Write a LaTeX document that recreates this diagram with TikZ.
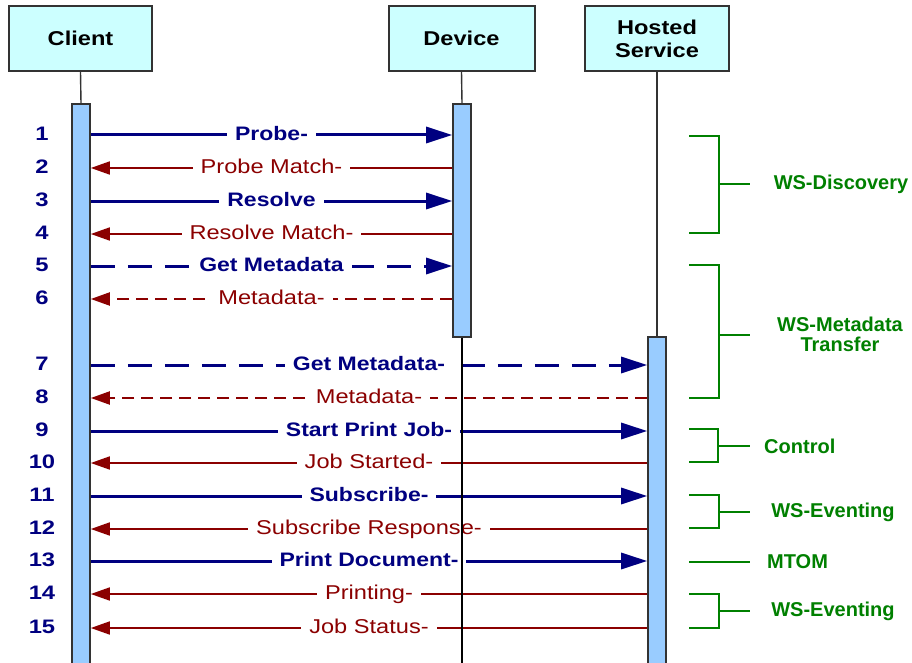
\documentclass[tikz,border=0pt]{standalone}
\usepackage{fontspec}
\setmainfont{Liberation Sans}
\usetikzlibrary{arrows.meta}
\definecolor{navyb}{HTML}{000080}
\definecolor{darkr}{HTML}{8B0000}
\definecolor{grn}{HTML}{008000}
\definecolor{boxfill}{HTML}{CCFFFF}
\definecolor{barfill}{HTML}{99CCFF}
\definecolor{edge}{HTML}{333333}
\newcommand{\wide}[1]{\scalebox{1.18}[1]{#1}}
\begin{document}
\begin{tikzpicture}[x=1pt,y=-1pt,
  head/.style={draw=edge, line width=2pt, fill=boxfill, minimum height=65pt,
    font=\bfseries\fontsize{20}{24}\selectfont, align=center, inner sep=0pt},
  bar/.style={draw=edge, line width=1.6pt, fill=barfill, minimum width=18pt, inner sep=0pt, anchor=north},
  life/.style={draw=edge, line width=1.4pt},
  req/.style={navyb, line width=3pt, -{Triangle[length=26pt,width=16pt]}},
  rsp/.style={darkr, line width=1.7pt, -{Triangle[length=19pt,width=13pt]}},
  dreq/.style={req, dash pattern=on 24pt off 13pt},
  drsp/.style={rsp, line width=2pt, dash pattern=on 12pt off 7pt},
  qlab/.style={fill=white, text=navyb, inner xsep=8pt, inner ysep=1pt, text height=0.72em, text depth=0pt,
    yshift=-2pt, font=\bfseries\fontsize{19.5}{22}\selectfont},
  slab/.style={fill=white, text=darkr, inner xsep=8pt, inner ysep=1pt, text height=0.72em, text depth=0pt,
    yshift=-2pt, font=\fontsize{20}{22}\selectfont},
  num/.style={text=navyb, inner sep=0pt, text height=0.72em, text depth=0pt,
    yshift=-2pt, font=\bfseries\fontsize{19.5}{22}\selectfont},
  brk/.style={grn, line width=2.6pt},
  glab/.style={text=grn, inner sep=0pt, align=center, font=\bfseries\fontsize{20}{22}\selectfont}
]
\useasboundingbox (0,0) rectangle (912,663);
\fill[white] (0,0) rectangle (912,663);

% heads
\node[head, minimum width=143pt] (client) at (80.5,38.5) {\wide{Client}};
\node[head, minimum width=146pt] (device) at (461.5,38.5) {\wide{Device}};
\node[head, minimum width=144pt] (hosted) at (657,38.5) {\wide{Hosted}\\[-1pt]\wide{Service}};

% bars
\node[bar, minimum height=575pt] (cbar) at (81,103) {};
\node[bar, minimum height=233pt] (dbar) at (462,103) {};
\node[bar, minimum height=335pt] (hbar) at (657,336) {};

\draw[life] (client.south) -- (cbar.north);
\draw[life] (device.south) -- (dbar.north);
\draw[life] (hosted.south) -- (hbar.north);

% rows
\foreach \i/\yy in {1/135,2/168,3/201,4/234,5/266,6/299,7/365,8/398,9/431,10/463,11/496,12/529,13/561,14/594,15/628}{
  \coordinate (r\i) at (0,\yy);
  \node[num] (n\i) at (42,\yy) {\scalebox{1.22}[1]{\i}};
}
\coordinate (bottom) at (0,670);

% messages
\draw[req]  (cbar.east |- r1) -- node[qlab]{\wide{Probe-}} (dbar.west |- r1);
\draw[rsp]  (dbar.west |- r2) -- node[slab]{\wide{Probe Match-}} (cbar.east |- r2);
\draw[req]  (cbar.east |- r3) -- node[qlab]{\wide{Resolve}} (dbar.west |- r3);
\draw[rsp]  (dbar.west |- r4) -- node[slab]{\wide{Resolve Match-}} (cbar.east |- r4);
\draw[dreq] (cbar.east |- r5) -- node[qlab]{\wide{Get Metadata}} (dbar.west |- r5);
\draw[drsp] (dbar.west |- r6) -- node[slab]{\wide{Metadata-}} (cbar.east |- r6);
\draw[dreq] (cbar.east |- r7) -- node[qlab]{\wide{Get Metadata-}} (hbar.west |- r7);
\draw[drsp] (hbar.west |- r8) -- node[slab]{\wide{Metadata-}} (cbar.east |- r8);
\draw[req]  (cbar.east |- r9) -- node[qlab]{\wide{Start Print Job-}} (hbar.west |- r9);
\draw[rsp]  (hbar.west |- r10) -- node[slab]{\wide{Job Started-}} (cbar.east |- r10);
\draw[req]  (cbar.east |- r11) -- node[qlab]{\wide{Subscribe-}} (hbar.west |- r11);
\draw[rsp]  (hbar.west |- r12) -- node[slab]{\wide{Subscribe Response-}} (cbar.east |- r12);
\draw[req]  (cbar.east |- r13) -- node[qlab]{\wide{Print Document-}} (hbar.west |- r13);
\draw[rsp]  (hbar.west |- r14) -- node[slab]{\wide{Printing-}} (cbar.east |- r14);
\draw[rsp]  (hbar.west |- r15) -- node[slab]{\wide{Job Status-}} (cbar.east |- r15);

% device lifeline below its bar (drawn over labels)
\draw[life, line width=1.1pt, black] (dbar.south) -- (dbar.south |- bottom);

% brackets
\draw[brk] (689,136) -- (719,136) -- (719,233) -- (689,233);
\draw[brk] (719,184) -- (750,184);
\node[glab] (g1) at (841,184) {WS-Discovery};

\draw[brk] (689,265) -- (719,265) -- (719,398) -- (689,398);
\draw[brk] (719,335) -- (750,335);
\node[glab] (g2) at (840,334) {WS-Metadata\\[-2pt]Transfer};

\draw[brk] (689,429) -- (718,429) -- (718,462) -- (689,462);
\draw[brk] (718,446) -- (750,446);
\node[glab, anchor=west] (g3) at (764,446) {Control};

\draw[brk] (689,495) -- (719,495) -- (719,528) -- (689,528);
\draw[brk] (719,512) -- (750,512);
\node[glab] (g4) at (833,512) {WS-Eventing};

\draw[brk] (689,562) -- (750,562);
\node[glab, anchor=west] (g5) at (767,562) {MTOM};

\draw[brk] (689,594) -- (719,594) -- (719,628) -- (689,628);
\draw[brk] (719,611) -- (750,611);
\node[glab] (g6) at (833,611) {WS-Eventing};
\end{tikzpicture}
\end{document}
